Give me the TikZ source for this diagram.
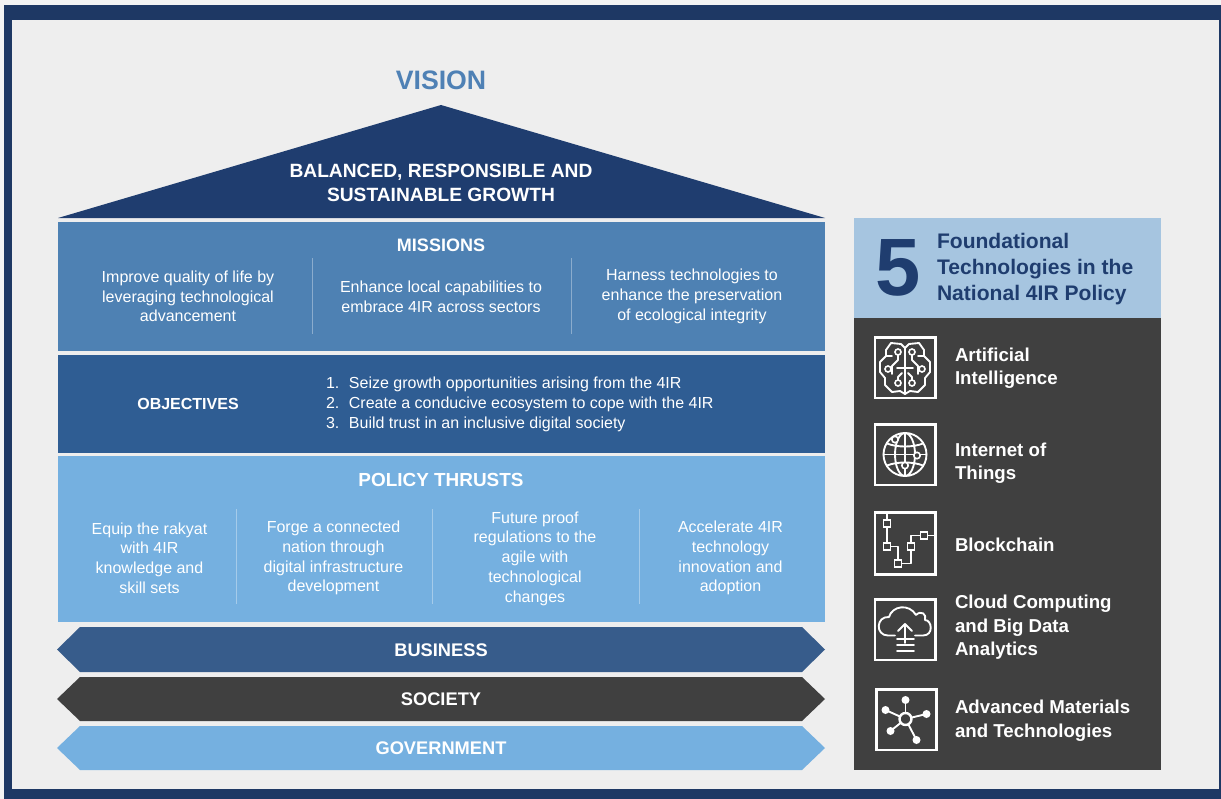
\documentclass[tikz,border=0pt]{standalone}
\usepackage{fontspec}
\setmainfont{Liberation Sans}
\definecolor{frameblue}{RGB}{30,56,100}
\definecolor{paper}{RGB}{238,238,238}
\definecolor{outerpaper}{RGB}{243,243,243}
\definecolor{roofblue}{RGB}{31,61,111}
\definecolor{missionblue}{RGB}{78,129,179}
\definecolor{objblue}{RGB}{47,93,147}
\definecolor{thrustblue}{RGB}{117,176,224}
\definecolor{bizblue}{RGB}{55,92,139}
\definecolor{darkgrey}{RGB}{64,64,64}
\definecolor{headblue}{RGB}{166,197,224}
\definecolor{visionblue}{RGB}{79,129,181}
\definecolor{fiveblue}{RGB}{31,61,111}
\tikzset{
  x=0.75pt,y=-0.75pt,
  txt/.style={inner sep=0,outer sep=0,text=white,align=center},
  body/.style={txt,font=\fontsize{12}{14.8}\selectfont},
  head/.style={txt,font=\fontsize{13.5}{17}\selectfont\bfseries},
  band/.style={txt,font=\fontsize{13.7}{17}\selectfont\bfseries},
  label/.style={txt,anchor=west,align=left,font=\fontsize{14}{17.6}\selectfont\bfseries},
  divider/.style={draw=white,draw opacity=0.35,line width=0.7pt},
  ic/.style={draw=white,line width=1.4pt,line join=round,line cap=round},
  icbox/.style={draw=white,line width=2.2pt},
  sq/.style={draw=white,line width=1.4pt,fill=darkgrey},
  dot/.style={draw=white,line width=1.2pt,fill=darkgrey},
}
\begin{document}
\begin{tikzpicture}
\useasboundingbox (0,0) rectangle (1221,799);
\fill[outerpaper] (0,0) rectangle (1221,799);
\fill[frameblue] (4,5) rectangle (1221,799);
\fill[paper] (12,20) rectangle (1219,789);
% left house
\fill[roofblue] (441,105) -- (825,218) -- (58,218) -- cycle;
\fill[missionblue] (58,222) rectangle (825,351);
\fill[objblue] (58,355) rectangle (825,453);
\fill[thrustblue] (58,456) rectangle (825,622);
\fill[bizblue] (57,649.5) -- (80,627) -- (802,627) -- (825,649.5) -- (802,672) -- (80,672) -- cycle;
\fill[darkgrey] (57,699) -- (80,677) -- (802,677) -- (825,699) -- (802,721) -- (80,721) -- cycle;
\fill[thrustblue] (57,748) -- (80,726) -- (802,726) -- (825,748) -- (802,770) -- (80,770) -- cycle;
\draw[divider] (312,258) -- (312,334);
\draw[divider] (571,258) -- (571,334);
\draw[divider] (236,509) -- (236,604);
\draw[divider] (432,509) -- (432,604);
\draw[divider] (639,509) -- (639,604);
% texts
\node[txt,text=visionblue,font=\fontsize{20}{24}\selectfont\bfseries] (vision) at (441,80) {VISION};
\node[txt,font=\fontsize{14.4}{17.9}\selectfont\bfseries] (growth) at (441,183) {BALANCED, RESPONSIBLE AND\\SUSTAINABLE GROWTH};
\node[head] (missions) at (441,245) {MISSIONS};
\node[body] (m1) at (188,296.5) {Improve quality of life by\\leveraging technological\\advancement};
\node[body] (m2) at (441,296.5) {Enhance local capabilities to\\embrace 4IR across sectors};
\node[body] (m3) at (692,296.5) {Harness technologies to\\enhance the preservation\\of ecological integrity};
\node[txt,font=\fontsize{12}{14.8}\selectfont\bfseries] (objectives) at (188,404) {OBJECTIVES};
\node[body,anchor=west,align=left] (objlist) at (326,404.5) {\makebox[17.2pt][l]{1.}Seize growth opportunities arising from the 4IR\\\makebox[17.2pt][l]{2.}Create a conducive ecosystem to cope with the 4IR\\\makebox[17.2pt][l]{3.}Build trust in an inclusive digital society};
\node[head,font=\fontsize{14.2}{17}\selectfont\bfseries] (thrusts) at (441,480) {POLICY THRUSTS};
\node[body] (t1) at (149.5,558) {Equip the rakyat\\with 4IR\\knowledge and\\skill sets};
\node[body] (t2) at (333.5,558) {Forge a connected\\nation through\\digital infrastructure\\development};
\node[body] (t3) at (535,558.5) {Future proof\\regulations to the\\agile with\\technological\\changes};
\node[body] (t4) at (730.5,558) {Accelerate 4IR\\technology\\innovation and\\adoption};
\node[band] (business) at (441,650) {BUSINESS};
\node[band] (society) at (441,699.5) {SOCIETY};
\node[band] (government) at (441,748.5) {GOVERNMENT};
% right panel
\fill[headblue] (854,218) rectangle (1161,318);
\fill[darkgrey] (854,318) rectangle (1161,770);
\node[txt,text=fiveblue,font=\fontsize{61}{61}\selectfont\bfseries] (five) at (898,268) {5};
\node[txt,text=fiveblue,anchor=west,align=left,font=\fontsize{15.8}{19.2}\selectfont\bfseries] (headtxt) at (937,269) {Foundational\\Technologies in the\\National 4IR Policy};
\node[label] (l1) at (955,368) {Artificial\\Intelligence};
\node[label] (l2) at (955,463) {Internet of\\Things};
\node[label] (l3) at (955,545) {Blockchain};
\node[label] (l4) at (955,627.5) {Cloud Computing\\and Big Data\\Analytics};
\node[label] (l5) at (955,720.5) {Advanced Materials\\and Technologies};
% icon boxes
\draw[icbox] (875,337.5) rectangle (935.5,398);
\draw[icbox] (875,424.5) rectangle (935.5,485);
\draw[icbox] (875,512.5) rectangle (935.5,574.5);
\draw[icbox] (875,599.5) rectangle (935.5,660);
\draw[icbox] (876.5,689.5) rectangle (936.5,750);
% brain
\begin{scope}[shift={(905,368)}]
\draw[ic] (0,-20) -- (-4,-24) -- (-14,-25) -- (-19,-18) -- (-19,-12) -- (-25,-6) -- (-25,4) -- (-20,10) -- (-20,17) -- (-13,24) -- (-5,23) -- (0,26) -- (5,23) -- (13,24) -- (20,17) -- (20,10) -- (25,4) -- (25,-6) -- (19,-12) -- (19,-18) -- (14,-25) -- (4,-24) -- cycle;
\draw[ic] (0,-20) -- (0,26);
\draw[ic] (-8,0) -- (8,0);
\draw[ic] (-7,-13) -- (-7,-8) -- (-13,-2) -- (-13,6);
\draw[ic] (7,-13) -- (7,-8) -- (13,-2) -- (13,6);
\draw[ic] (-7,16) -- (-7,9) -- (-3,5);
\draw[ic] (7,16) -- (7,9) -- (3,5);
\draw[ic] (-19,-12) -- (-13,-12);
\draw[ic] (19,-12) -- (13,-12);
\foreach \p in {(-7,-16),(7,-16),(-17,1),(17,1),(-7,15),(7,15)} \draw[dot] \p circle (3);
\end{scope}
% globe
\begin{scope}[shift={(905,454.5)}]
\draw[ic] (0,0) circle (21.5);
\draw[ic] (0,0) ellipse (10 and 21.5);
\draw[ic] (0,-21.5) -- (0,21.5);
\draw[ic] (-21.5,0) -- (21.5,0);
\draw[ic] (-18,-11) .. controls (-8,-7) and (8,-7) .. (18,-11);
\draw[ic] (-18,11) .. controls (-8,7) and (8,7) .. (18,11);
\foreach \p in {(-10,-15),(12,1),(0,11)} \draw[dot] \p circle (3.2);
\end{scope}
% blockchain
\begin{scope}[shift={(905,543.5)}]
\draw[ic,line cap=butt] (-18,-30) -- (-18,3) -- (-7,3) -- (-7,20) -- (6,20) -- (6,-8) -- (30,-8);
\foreach \p in {(-18,-20),(-18,3),(-7,20),(6,3),(19,-8)} \node[sq,minimum size=5.2pt,inner sep=0] at \p {};
\end{scope}
% cloud
\begin{scope}[shift={(905,630)}]
\draw[ic] (-10,5.5) -- (-17,5.5) .. controls (-30,5.5) and (-29,-14) .. (-16,-13) .. controls (-13,-24) and (4,-27) .. (11,-15) .. controls (16,-20) and (22,-16) .. (20,-10) .. controls (27,-10) and (29,5.5) .. (18,5.5) -- (10,5.5);
\draw[ic] (0,13) -- (0,-6);
\draw[ic] (-7,1) -- (0,-6) -- (7,1);
\draw[ic] (-8,9) -- (9,9);
\draw[ic] (-8,15) -- (9,15);
\draw[ic] (-8,21) -- (9,21);
\end{scope}
% network
\begin{scope}[shift={(905.5,719)}]
\foreach \p in {(0,-19),(21,-5),(11,21),(-15,12),(-20,-9)} {
  \draw[ic] (0,0) -- \p;
  \fill[white] \p circle (4);
}
\draw[draw=white,line width=1.8pt,fill=darkgrey] (0,0) circle (6);
\end{scope}
\end{tikzpicture}
\end{document}
